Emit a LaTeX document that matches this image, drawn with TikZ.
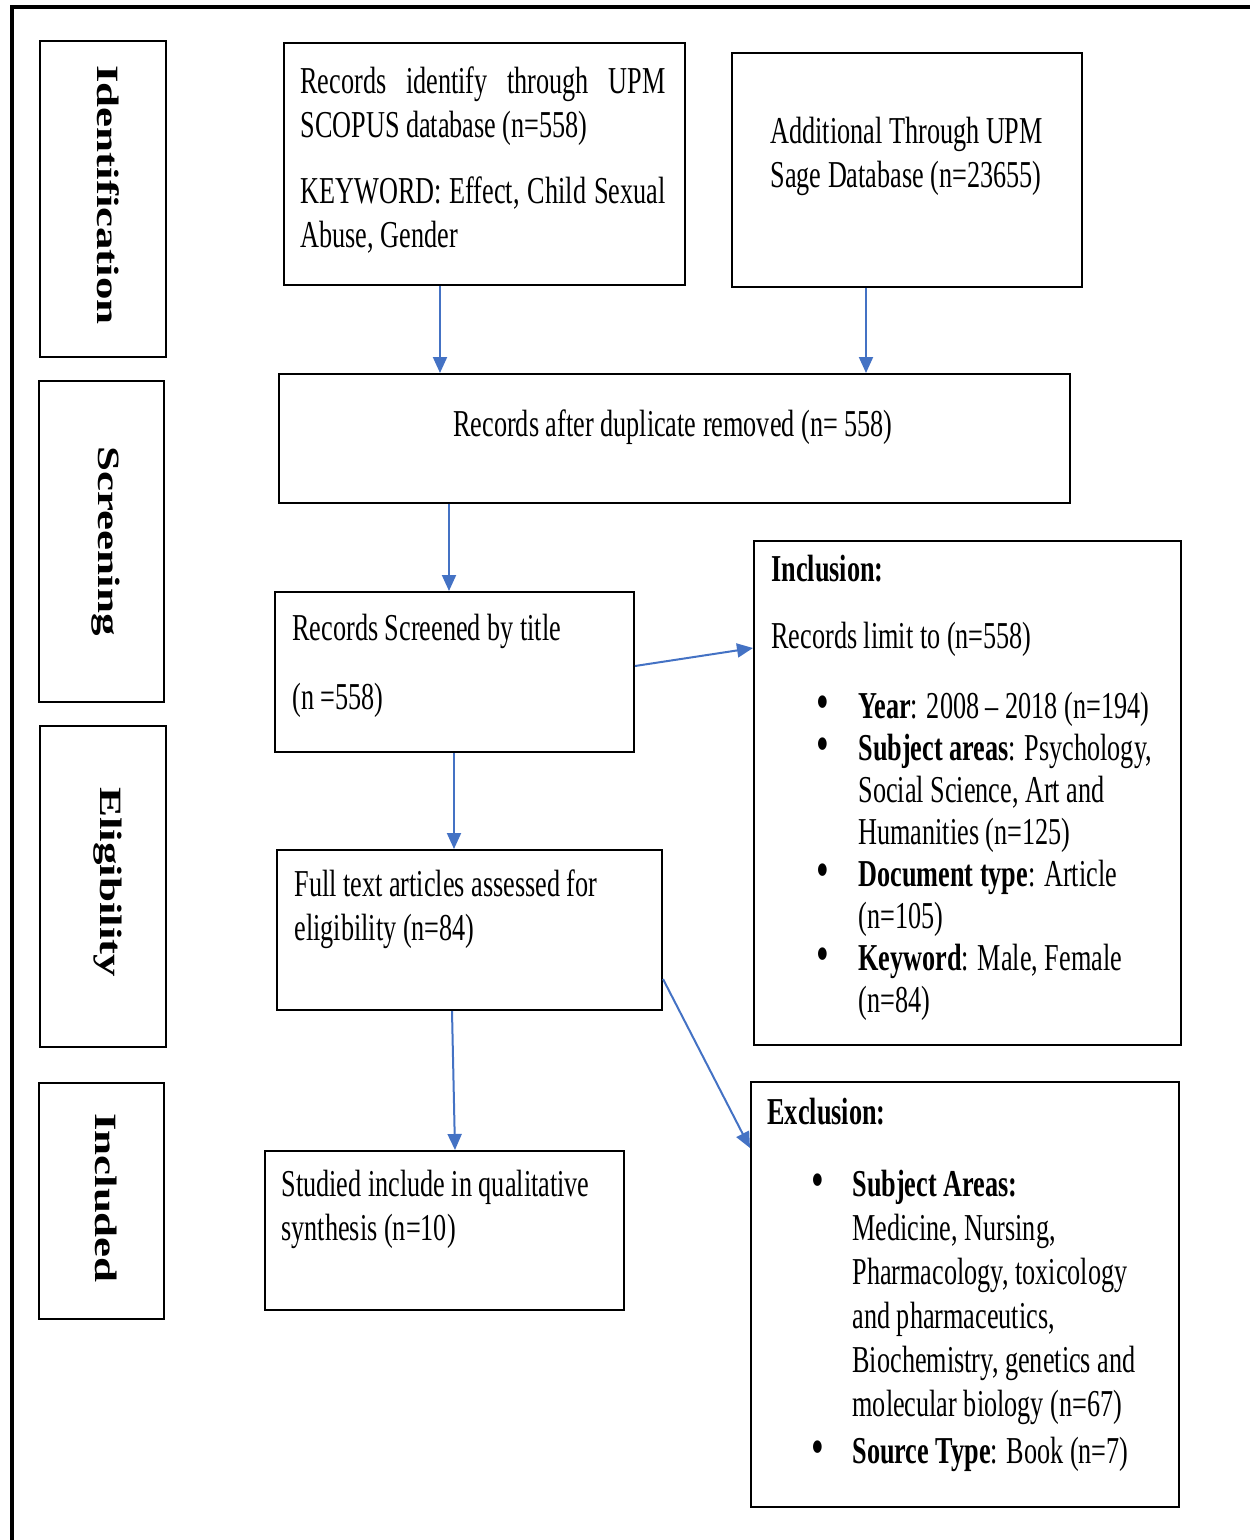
\documentclass[tikz,border=0pt]{standalone}
\usepackage{fontspec}
\setmainfont{Liberation Serif}[FakeStretch=0.69]
\newfontfamily\stagefont{Liberation Serif}[FakeStretch=1.45]
\usepackage{tikz}
\usetikzlibrary{arrows.meta, positioning, calc}
\definecolor{flowblue}{RGB}{68,114,196}
\newdimen\pxu \pxu=0.4pt
\newcommand{\bul}[2]{\hspace*{#1\pxu}\llap{\raisebox{-0.6pt}{\fontsize{21}{17.6}\selectfont\textbullet}\hspace{#2\pxu}}}
\newcommand{\ind}[1]{\hspace*{#1\pxu}}
\tikzset{>={Triangle[length=6.4pt,width=5.6pt]}}
\tikzset{box/.style={draw, line width=0.8pt, inner sep=0pt, anchor=north west},
	stage/.style={rotate=-90, inner sep=0pt, font=\stagefont\fontsize{12.4}{14}\selectfont\bfseries},
	txt/.style={anchor=base west, inner sep=0pt, align=left, font=\fontsize{15.2}{17.6}\selectfont},
	flow/.style={->, flowblue, line width=0.8pt}}

\begin{document}
\begin{tikzpicture}[x=0.4pt, y=-0.4pt]

	\useasboundingbox (0,0) rectangle (1250,1540);
	\draw [line width=1.4pt] (1250,7) -- (12,7) -- (12,1540);

	% stages
	\node [box, minimum width=126\pxu, minimum height=316\pxu] (idbox) at (39,40) {};
	\node [stage] (idlab) at (108,195) {Identification};
	\node [box, minimum width=125\pxu, minimum height=321\pxu] (scbox) at (38,380) {};
	\node [stage] (sclab) at (106,541) {Screening};
	\node [box, minimum width=126\pxu, minimum height=321\pxu] (elbox) at (39,725) {};
	\node [stage] (ellab) at (108,882) {Eligibility};
	\node [box, minimum width=125\pxu, minimum height=236\pxu] (inbox) at (38,1082) {};
	\node [stage] (inlab) at (106,1198) {Included};

	% records (text nodes sit on their last line)
	\node [box, minimum width=401\pxu, minimum height=242\pxu] (scopus) at (283,42) {};
	\node [txt] (scopustxt) at (300,247) {\makebox[365\pxu][s]{Records identify through UPM}\\
		SCOPUS database (n=558)\\[8.8pt]
		\makebox[365\pxu][s]{KEYWORD: Effect, Child Sexual}\\
		Abuse, Gender};
	\node [box, minimum width=350\pxu, minimum height=234\pxu] (sage) at (731,52) {};
	\node [txt] (sagetxt) at (770,187) {Additional Through UPM\\Sage Database (n=23655)};
	\node [box, minimum width=791\pxu, minimum height=129\pxu] (dupl) at (278,373) {};
	\node [txt, anchor=base] (dupltxt) at (673,436) {Records after duplicate removed (n= 558)};
	\node [box, minimum width=359\pxu, minimum height=160\pxu] (title) at (274,591) {};
	\node [txt] (titletxt) at (292,709) {Records Screened by title\\[10pt](n =558)};
	\node [box, minimum width=385\pxu, minimum height=160\pxu] (full) at (276,849) {};
	\node [txt] (fulltxt) at (294,940) {Full text articles assessed for\\eligibility (n=84)};
	\node [box, minimum width=359\pxu, minimum height=159\pxu] (qual) at (264,1150) {};
	\node [txt] (qualtxt) at (281,1240) {Studied include in qualitative\\synthesis (n=10)};

	% inclusion / exclusion
	\node [box, minimum width=427\pxu, minimum height=504\pxu] (incl) at (753,540) {};
	\node [txt, font=\fontsize{15.2}{16.8}\selectfont] (incltxt) at (771,1012) {\textbf{Inclusion:}\\[10pt]
		Records limit to (n=558)\\[11pt]
		\bul{87}{29}\textbf{Year}: 2008 – 2018 (n=194)\\
		\bul{87}{29}\textbf{Subject areas}: Psychology,\\
		\ind{87}Social Science, Art and\\
		\ind{87}Humanities (n=125)\\
		\bul{87}{29}\textbf{Document type}: Article\\
		\ind{87}(n=105)\\
		\bul{87}{29}\textbf{Keyword}: Male, Female\\
		\ind{87}(n=84)};
	\node [box, minimum width=428\pxu, minimum height=425\pxu] (excl) at (750,1081) {};
	\node [txt] (excltxt) at (767,1463) {\textbf{Exclusion:}\\[11.2pt]
		\bul{85}{28}\textbf{Subject Areas:}\\
		\ind{85}Medicine, Nursing,\\
		\ind{85}Pharmacology, toxicology\\
		\ind{85}and pharmaceutics,\\
		\ind{85}Biochemistry, genetics and\\
		\ind{85}molecular biology (n=67)\\[1.2pt]
		\bul{85}{28}\textbf{Source Type}: Book (n=7)};

	\draw [flow] (scopus.south -| 440,0) -- (dupl.north -| 440,0);
	\draw [flow] (sage.south -| 866,0) -- (dupl.north -| 866,0);
	\draw [flow] (dupl.south -| 449,0) -- (title.north -| 449,0);
	\draw [flow] (title.east |- 0,666) -- (incl.west |- 0,648);
	\draw [flow] (title.south -| 454,0) -- (full.north -| 454,0);
	\draw [flow] (full.south -| 452,0) -- (qual.north -| 455,0);
	\draw [flow] (full.east |- 0,979) -- (excl.west |- 0,1148);

\end{tikzpicture}
\end{document}
